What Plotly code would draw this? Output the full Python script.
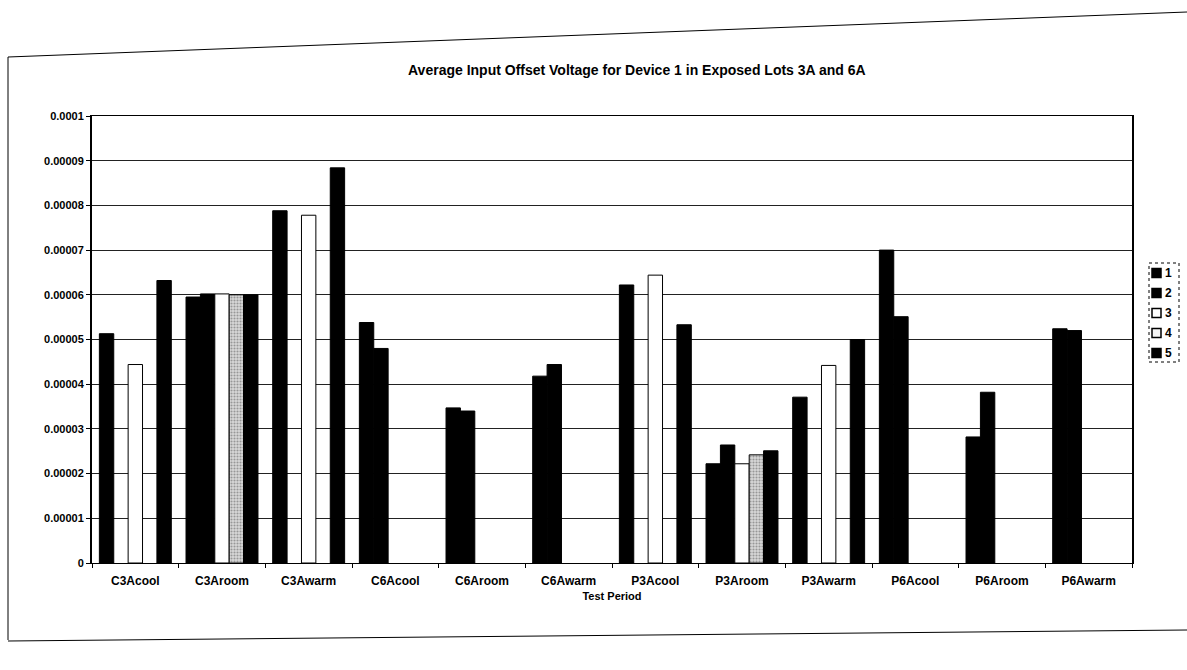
import plotly.graph_objects as go

# --- data ---
categories = ["C3Acool", "C3Aroom", "C3Awarm", "C6Acool", "C6Aroom", "C6Awarm",
              "P3Acool", "P3Aroom", "P3Awarm", "P6Acool", "P6Aroom", "P6Awarm"]

s1 = [5.13e-5, 5.95e-5, 7.88e-5, 5.38e-5, 3.47e-5, 4.18e-5, 6.22e-5, 2.22e-5, 3.71e-5, 7.00e-5, 2.82e-5, 5.24e-5]
s2 = [None, 6.02e-5, None, 4.80e-5, 3.40e-5, 4.44e-5, None, 2.64e-5, None, 5.51e-5, 3.82e-5, 5.20e-5]
s3 = [4.44e-5, 6.02e-5, 7.78e-5, None, None, None, 6.44e-5, 2.22e-5, 4.42e-5, None, None, None]
s4 = [None, 6.00e-5, None, None, None, None, None, 2.42e-5, None, None, None, None]
s5 = [6.32e-5, 6.00e-5, 8.84e-5, None, None, None, 5.33e-5, 2.51e-5, 5.00e-5, None, None, None]

series_names = ["1", "2", "3", "4", "5"]
y_ticks = [0, 1e-5, 2e-5, 3e-5, 4e-5, 5e-5, 6e-5, 7e-5, 8e-5, 9e-5, 1e-4]
y_tick_text = ["0", "0.00001", "0.00002", "0.00003", "0.00004", "0.00005",
               "0.00006", "0.00007", "0.00008", "0.00009", "0.0001"]

FONT = "Arial, Liberation Sans, Helvetica, sans-serif"

fills = ["#000000", "#000000", "#ffffff", "#c8c8c8", "#000000"]
legend_fills = ["#000000", "#000000", "#ffffff", "#f4f4f4", "#000000"]

fig = go.Figure()
for name, vals, fill in zip(series_names, [s1, s2, s3, s4, s5], fills):
    marker = dict(color=fill, line=dict(color="#000000", width=1))
    if name == "4":
        marker["pattern"] = dict(shape=".", fgcolor="#555555", bgcolor="#d8d8d8", size=3, solidity=0.4)
    fig.add_trace(go.Bar(x=categories, y=vals, name=name, marker=marker))

# plot area in pixels: x 92..1132, y 116..563
L, R, T, B = 92, 1132, 116, 563
W, H = 1187, 670


def px(x):
    return (x - L) / (R - L)


def py(y):
    return (B - y) / (B - T)


fig.update_layout(
    width=W, height=H,
    margin=dict(l=L, r=W - R, t=T, b=H - B, pad=0),
    paper_bgcolor="white", plot_bgcolor="white",
    barmode="group", bargap=0.17, bargroupgap=0,
    font=dict(family=FONT, size=12, color="#000000"),
    showlegend=False,
    title=dict(text="<b>Average Input Offset Voltage for Device 1 in Exposed Lots 3A and 6A</b>",
               x=px(650), xanchor="center", y=1 - 70 / H, yanchor="middle",
               font=dict(family=FONT, size=14, color="#000000")),
    xaxis=dict(
        showline=True, linecolor="#000000", linewidth=1, mirror=True,
        ticks="outside", ticklen=4, tickcolor="#000000", tickson="boundaries",
        ticklabelstandoff=7,
        tickfont=dict(family=FONT, size=12, color="#000000"),
        tickprefix="<b>", ticksuffix="</b>",
        title=dict(text="<b>Test Period</b>", font=dict(family=FONT, size=11), standoff=4),
    ),
    yaxis=dict(
        range=[0, 1e-4], tickvals=y_ticks, ticktext=["<b>%s</b>" % t for t in y_tick_text],
        showline=True, linecolor="#000000", linewidth=2, mirror=True,
        ticks="outside", ticklen=4, tickcolor="#000000",
        showgrid=True, gridcolor="#222222", gridwidth=1,
        tickfont=dict(family=FONT, size=11, color="#000000"),
        zeroline=False,
    ),
)

# legend drawn by hand so it fits the narrow right margin like the original
leg_left, leg_top, leg_right, leg_bottom = 1149, 263, 1179, 362
fig.add_shape(type="rect", xref="paper", yref="paper",
              x0=px(leg_left), y0=py(leg_top), x1=px(leg_right), y1=py(leg_bottom),
              line=dict(color="#000000", width=1, dash="dot"), fillcolor="white")
for i, (name, fill) in enumerate(zip(series_names, legend_fills)):
    yc = 273 + i * 20
    fig.add_shape(type="rect", xref="paper", yref="paper",
                  x0=px(1152), y0=py(yc - 4.5), x1=px(1161), y1=py(yc + 4.5),
                  line=dict(color="#000000", width=1.5), fillcolor=fill)
    fig.add_annotation(xref="paper", yref="paper", x=px(1163), y=py(yc),
                       xanchor="left", yanchor="middle", showarrow=False,
                       text="<b>%s</b>" % name, font=dict(family=FONT, size=12, color="#000000"))

# outer chart border from the printed page
fig.add_shape(type="line", xref="paper", yref="paper",
              x0=px(8), y0=py(57), x1=px(8), y1=py(640), line=dict(color="#000000", width=1))
fig.add_shape(type="line", xref="paper", yref="paper",
              x0=px(8), y0=py(57), x1=px(1187), y1=py(12), line=dict(color="#000000", width=1))
fig.add_shape(type="line", xref="paper", yref="paper",
              x0=px(8), y0=py(641), x1=px(1187), y1=py(630), line=dict(color="#000000", width=1))

fig.write_html("out.html", config={"displayModeBar": False},
               post_script="document.body.style.margin='0px';")
